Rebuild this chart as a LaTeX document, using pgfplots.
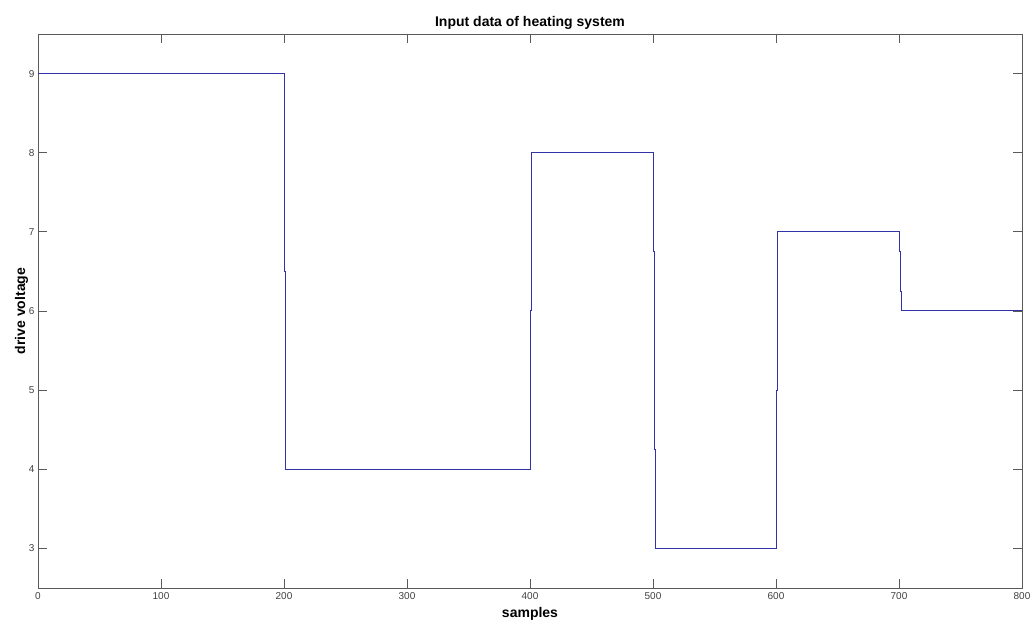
\documentclass[border=0pt]{standalone}
\usepackage{pgfplots}
\pgfplotsset{compat=1.18}
\usepackage{fontspec}
\setmainfont{Liberation Sans}
\definecolor{linec}{RGB}{50,50,170}
\definecolor{axc}{RGB}{90,90,90}
\begin{document}
\begin{tikzpicture}[x=1pt,y=1pt]
\begin{axis}[
  scale only axis,
  width=984pt, height=554pt,
  xmin=0, xmax=800, ymin=2.5, ymax=9.5,
  xtick={0,100,...,800}, ytick={3,4,...,9},
  tick align=inside, major tick length=9pt,
  xtick pos=both, ytick pos=both,
  axis line style={draw=axc, line width=0.9pt},
  every tick/.style={draw=axc, line width=0.9pt},
  /pgf/number format/assume math mode=true,
  tick label style={font=\fontsize{10}{12}\selectfont, text=black!75},
  xticklabel style={yshift=-1pt},
  title={\bfseries Input data of heating system},
  title style={font=\fontsize{14}{16}\selectfont, yshift=-5pt},
  xlabel={\bfseries samples},
  ylabel={\bfseries drive voltage},
  label style={font=\fontsize{14}{16}\selectfont},
  xlabel style={yshift=-1pt},
  ylabel style={yshift=-6pt},
]
\addplot[linec, line width=1pt] coordinates {
 (0,9) (200,9) (200,6.5) (201,6.5) (201,4)
 (400,4) (400,6) (401,6) (401,8)
 (500,8) (500,6.75) (501,6.75) (501,4.25) (502,4.25) (502,3)
 (600,3) (600,5) (601,5) (601,7)
 (700,7) (700,6.75) (701,6.75) (701,6.25) (702,6.25) (702,6)
 (800,6)
};
\end{axis}
\pgfresetboundingbox
\path ([shift={(-38pt,-38pt)}]current axis.south west) rectangle ([shift={(9pt,34pt)}]current axis.north east);
\end{tikzpicture}
\end{document}
